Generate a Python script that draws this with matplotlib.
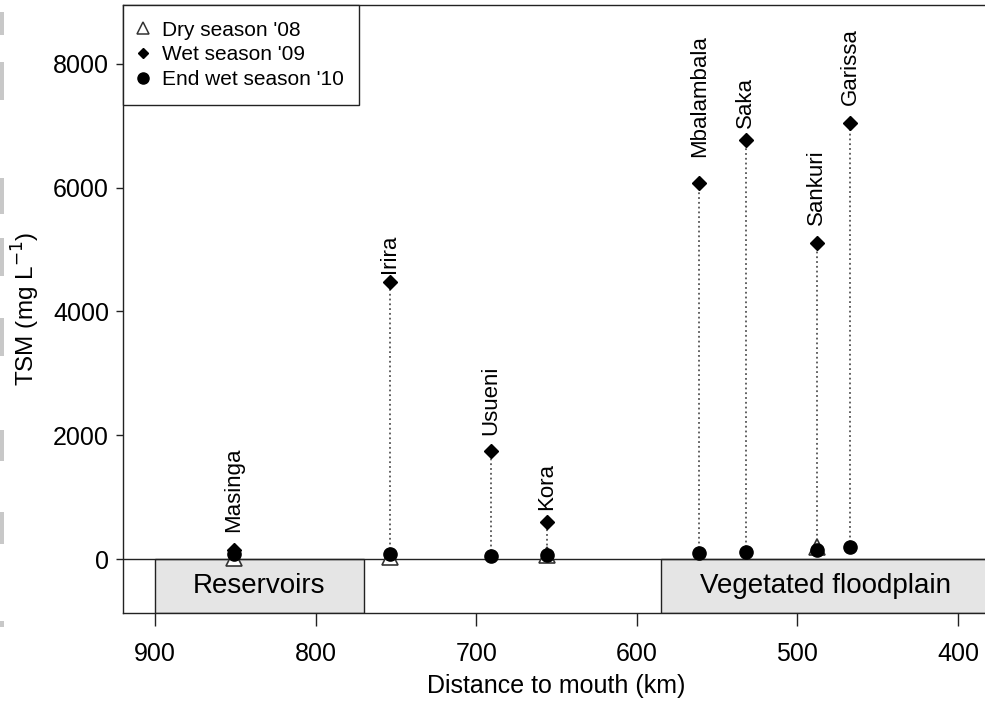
import matplotlib
matplotlib.use("Agg")
import matplotlib.pyplot as plt
from matplotlib.patches import Rectangle
from matplotlib.lines import Line2D

plt.rcParams['font.family'] = ['Liberation Sans', 'DejaVu Sans']

stations = ["Masinga", "Irira", "Usueni", "Kora", "Mbalambala", "Saka", "Sankuri", "Garissa"]
distance = [851, 754, 691, 656, 561, 532, 488, 467]
wet_09 = [140, 4475, 1745, 600, 6070, 6770, 5105, 7045]
end_wet_10 = [85, 75, 55, 70, 100, 115, 150, 190]
dry_dist = [851, 754, 656, 488]
dry_08 = [25, 40, 60, 200]
label_gap_px = [18, 9, 16, 12, 26, 12, 18, 18]

zones = ["Reservoirs", "Vegetated floodplain"]
zone_start = [900, 585]
zone_end = [770, 380]

XMIN, XMAX = 920, 380
YMIN, YMAX = -870, 8950

fig = plt.figure(figsize=(9.85, 7.09), dpi=100)
ax = fig.add_axes([123/985, 1-613/709, (990-123)/985, (613-5)/709])
ax.set_xlim(XMIN, XMAX)
ax.set_ylim(YMIN, YMAX)

# side gray dashes (scan artifacts)
for y0, y1 in [(12, 35), (62, 100), (178, 214), (238, 276), (318, 356), (430, 461), (512, 544), (621, 627)]:
    fig.patches.append(Rectangle((0, 1-y1/709), 4/985, (y1-y0)/709, transform=fig.transFigure,
                                 facecolor='#c8c8c8', edgecolor='none'))

for name, a, b in zip(zones, zone_start, zone_end):
    ax.add_patch(Rectangle((a, YMIN), b-a, -YMIN, facecolor='#e5e5e5', edgecolor='#222222', lw=1.0, zorder=1))
    ax.text((a + b)/2, -430, name, ha='center', va='center', fontsize=20, zorder=2)
ax.axhline(0, color='#222222', lw=1.0, zorder=1.5)

for d, w, e in zip(distance, wet_09, end_wet_10):
    ax.plot([d, d], [e, w], ls=':', color='#555555', lw=1.3, zorder=2)

ax.plot(dry_dist, dry_08, ls='none', marker='^', ms=12, mfc='white', mec='#333333', mew=1.2, zorder=3)
ax.plot(distance, end_wet_10, ls='none', marker='o', ms=9.5, color='black', zorder=4)
ax.plot(distance, wet_09, ls='none', marker='D', ms=7.5, color='black', zorder=5)

for s, d, w, g in zip(stations, distance, wet_09, label_gap_px):
    ax.annotate(s, (d, w), xytext=(0, g), textcoords='offset pixels', rotation=90,
                ha='center', va='bottom', fontsize=16)

ax.set_xticks([900, 800, 700, 600, 500, 400])
ax.set_yticks([0, 2000, 4000, 6000, 8000])
ax.tick_params(axis='both', direction='out', width=1, labelsize=18, color='#222222')
ax.tick_params(axis='x', length=9, pad=12)
ax.tick_params(axis='y', length=5, pad=5)
for sp in ax.spines.values():
    sp.set_color('#222222')
    sp.set_linewidth(1.0)
ax.set_xlabel("Distance to mouth (km)", fontsize=18, labelpad=6)
ax.set_ylabel("TSM (mg L$^{-1}$)", fontsize=17.5, labelpad=8)

handles = [Line2D([], [], ls='none', marker='^', ms=9, mfc='white', mec='#333333', mew=1.1),
           Line2D([], [], ls='none', marker='D', ms=5.5, color='black'),
           Line2D([], [], ls='none', marker='o', ms=8, color='black')]
leg = ax.legend(handles, ["Dry season '08", "Wet season '09", "End wet season '10"], loc='upper left',
                bbox_to_anchor=(0, 1), borderaxespad=0, fancybox=False, edgecolor='#222222',
                fontsize=15, handletextpad=0.7, handlelength=0.42, labelspacing=0.27, borderpad=0.75,
                framealpha=1)
leg.get_frame().set_linewidth(1.0)

fig.savefig("out.png", dpi=100)
